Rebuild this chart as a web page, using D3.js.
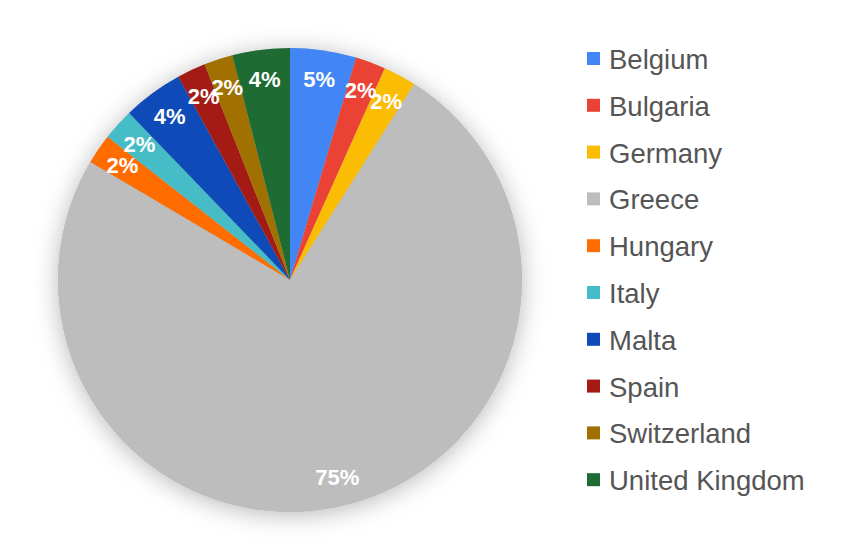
<!DOCTYPE html>
<html>
<head>
<meta charset="utf-8">
<script src="https://cdn.jsdelivr.net/npm/d3@7"></script>
<style>
  html, body { margin: 0; padding: 0; background: #fff; }
  svg { display: block; }
</style>
</head>
<body>
<svg id="chart" width="850" height="551"></svg>
<script>
const categories = ["Belgium", "Bulgaria", "Germany", "Greece", "Hungary", "Italy", "Malta", "Spain", "Switzerland", "United Kingdom"];
const values = [4.6, 2.1, 2.3, 74.5, 2.1, 2.2, 4.2, 2.0, 2.0, 4.0];
const colors = ["#4285F4", "#EA4335", "#FBBC04", "#BDBDBD", "#FF6D01", "#46BDC6", "#0F4BB8", "#A31B14", "#A07000", "#1E6B34"];

const svg = d3.select("#chart");
const cx = 290, cy = 280, r = 232;

const defs = svg.append("defs");
const f = defs.append("filter").attr("id", "shadow")
  .attr("x", "-30%").attr("y", "-30%").attr("width", "160%").attr("height", "160%");
f.append("feDropShadow").attr("dx", 0).attr("dy", 3).attr("stdDeviation", 12)
  .attr("flood-color", "#000").attr("flood-opacity", 0.28);

const data = categories.map((c, i) => ({ name: c, value: values[i], color: colors[i] }));
const total = d3.sum(values);
const pie = d3.pie().value(d => d.value).sort(null);
const arcs = pie(data);
const arc = d3.arc().innerRadius(0).outerRadius(r);
const labelArc = d3.arc().innerRadius(203).outerRadius(203);

const g = svg.append("g").attr("transform", `translate(${cx},${cy})`);
g.append("circle").attr("r", r).attr("fill", "#BDBDBD").attr("filter", "url(#shadow)");
g.selectAll("path.slice").data(arcs).enter().append("path")
  .attr("class", "slice")
  .attr("d", arc)
  .attr("fill", d => d.data.color);

g.selectAll("text.lbl").data(arcs).enter().append("text")
  .attr("class", "lbl")
  .attr("transform", d => `translate(${labelArc.centroid(d)})`)
  .attr("text-anchor", "middle")
  .attr("dy", "0.36em")
  .attr("font-family", "Arial, 'Liberation Sans', sans-serif")
  .attr("font-weight", "bold")
  .attr("font-size", 22)
  .attr("fill", "#fff")
  .text(d => Math.round(d.data.value / total * 100) + "%");

const legend = svg.append("g").attr("transform", "translate(587,59)");
const rowH = 46.8;
const items = legend.selectAll("g").data(data).enter().append("g")
  .attr("transform", (d, i) => `translate(0,${i * rowH})`);
items.append("rect").attr("x", 0).attr("y", -7).attr("width", 13).attr("height", 13)
  .attr("fill", d => d.color);
items.append("text").attr("x", 22).attr("y", 0).attr("dy", "0.36em")
  .attr("font-family", "Arial, 'Liberation Sans', sans-serif")
  .attr("font-size", 27.5)
  .attr("fill", "#555")
  .text(d => d.name);
</script>
</body>
</html>
